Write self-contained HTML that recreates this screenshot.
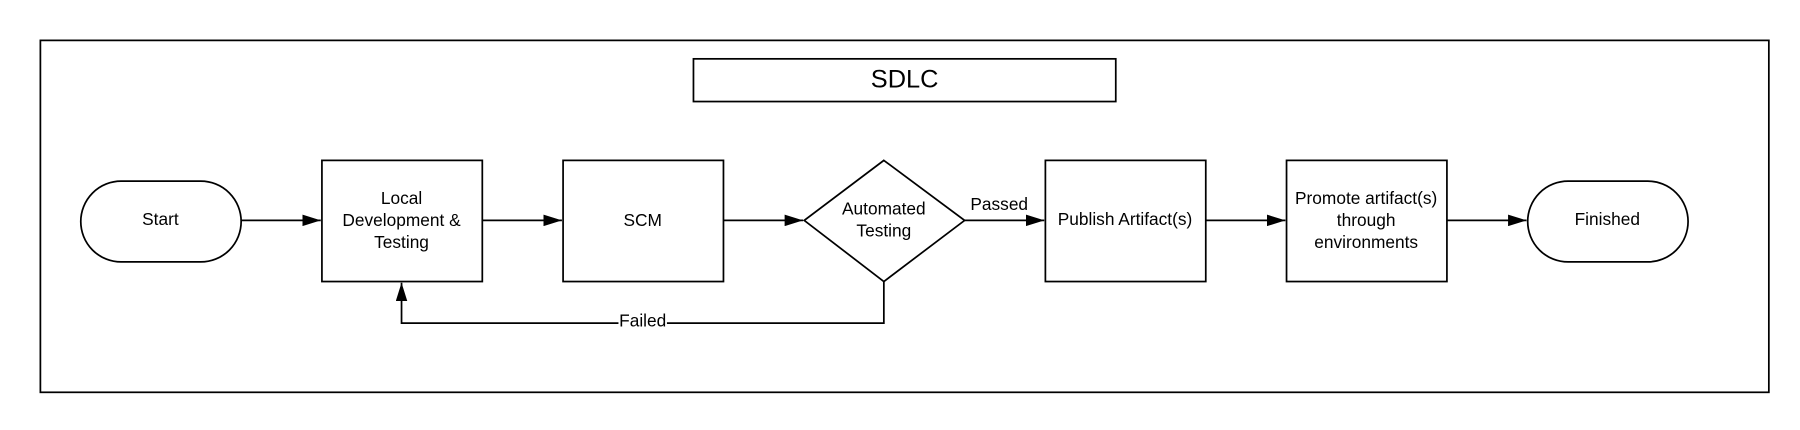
<!DOCTYPE html>
<html><head><meta charset="utf-8"><style>
html,body{margin:0;padding:0;background:#fff;}
svg{display:block;}
text{font-family:"Liberation Sans",sans-serif;fill:#000;}
</style></head><body>
<svg width="1800" height="430" viewBox="0 0 1560 372.67" preserveAspectRatio="none" xmlns="http://www.w3.org/2000/svg">
<defs><marker id="a" markerWidth="10" markerHeight="8" refX="10" refY="4" orient="auto" markerUnits="userSpaceOnUse"><path d="M0,0 L10,4 L0,8 Z" fill="#000"/></marker>
<marker id="b" markerWidth="16" markerHeight="10" refX="16" refY="5" orient="auto" markerUnits="userSpaceOnUse"><path d="M0,0 L16,5 L0,10 Z" fill="#000"/></marker></defs>
<rect x="35" y="35" width="1498" height="305" fill="#fff" stroke="#000" stroke-width="1.5"/>
<rect x="601" y="51" width="366" height="37" fill="#fff" stroke="#000" stroke-width="1.5"/>
<text x="784" y="76" font-size="22" text-anchor="middle">SDLC</text>
<g fill="#fff" stroke="#000" stroke-width="1.5">
<rect x="70" y="157" width="139" height="70" rx="35" ry="35"/>
<rect x="279" y="139" width="139" height="105"/>
<rect x="488" y="139" width="139" height="105"/>
<path d="M766,139 L836,191 L766,244 L697,191 Z"/>
<rect x="906" y="139" width="139" height="105"/>
<rect x="1115" y="139" width="139" height="105"/>
<rect x="1324" y="157" width="139" height="70" rx="35" ry="35"/>
</g>
<g stroke="#000" stroke-width="1.5" fill="none">
<line x1="209" y1="191" x2="278" y2="191" marker-end="url(#b)"/>
<line x1="418" y1="191" x2="487" y2="191" marker-end="url(#b)"/>
<line x1="627" y1="191" x2="696" y2="191" marker-end="url(#b)"/>
<line x1="836" y1="191" x2="905" y2="191" marker-end="url(#b)"/>
<line x1="1045" y1="191" x2="1114" y2="191" marker-end="url(#b)"/>
<line x1="1254" y1="191" x2="1323" y2="191" marker-end="url(#b)"/>
<polyline points="766,244 766,280 348,280 348,245" marker-end="url(#b)"/>
</g>
<rect x="536" y="270" width="42" height="16" fill="#fff"/>
<g font-size="15" text-anchor="middle">
<text x="139" y="195">Start</text>
<text x="348" y="177">Local</text>
<text x="348" y="196">Development &amp;</text>
<text x="348" y="215">Testing</text>
<text x="557" y="196">SCM</text>
<text x="766" y="186">Automated</text>
<text x="766" y="205">Testing</text>
<text x="866" y="182">Passed</text>
<text x="975" y="195">Publish Artifact(s)</text>
<text x="1184" y="177">Promote artifact(s)</text>
<text x="1184" y="196">through</text>
<text x="1184" y="215">environments</text>
<text x="1393" y="195">Finished</text>
<text x="557" y="283">Failed</text>
</g>
</svg>
</body></html>
